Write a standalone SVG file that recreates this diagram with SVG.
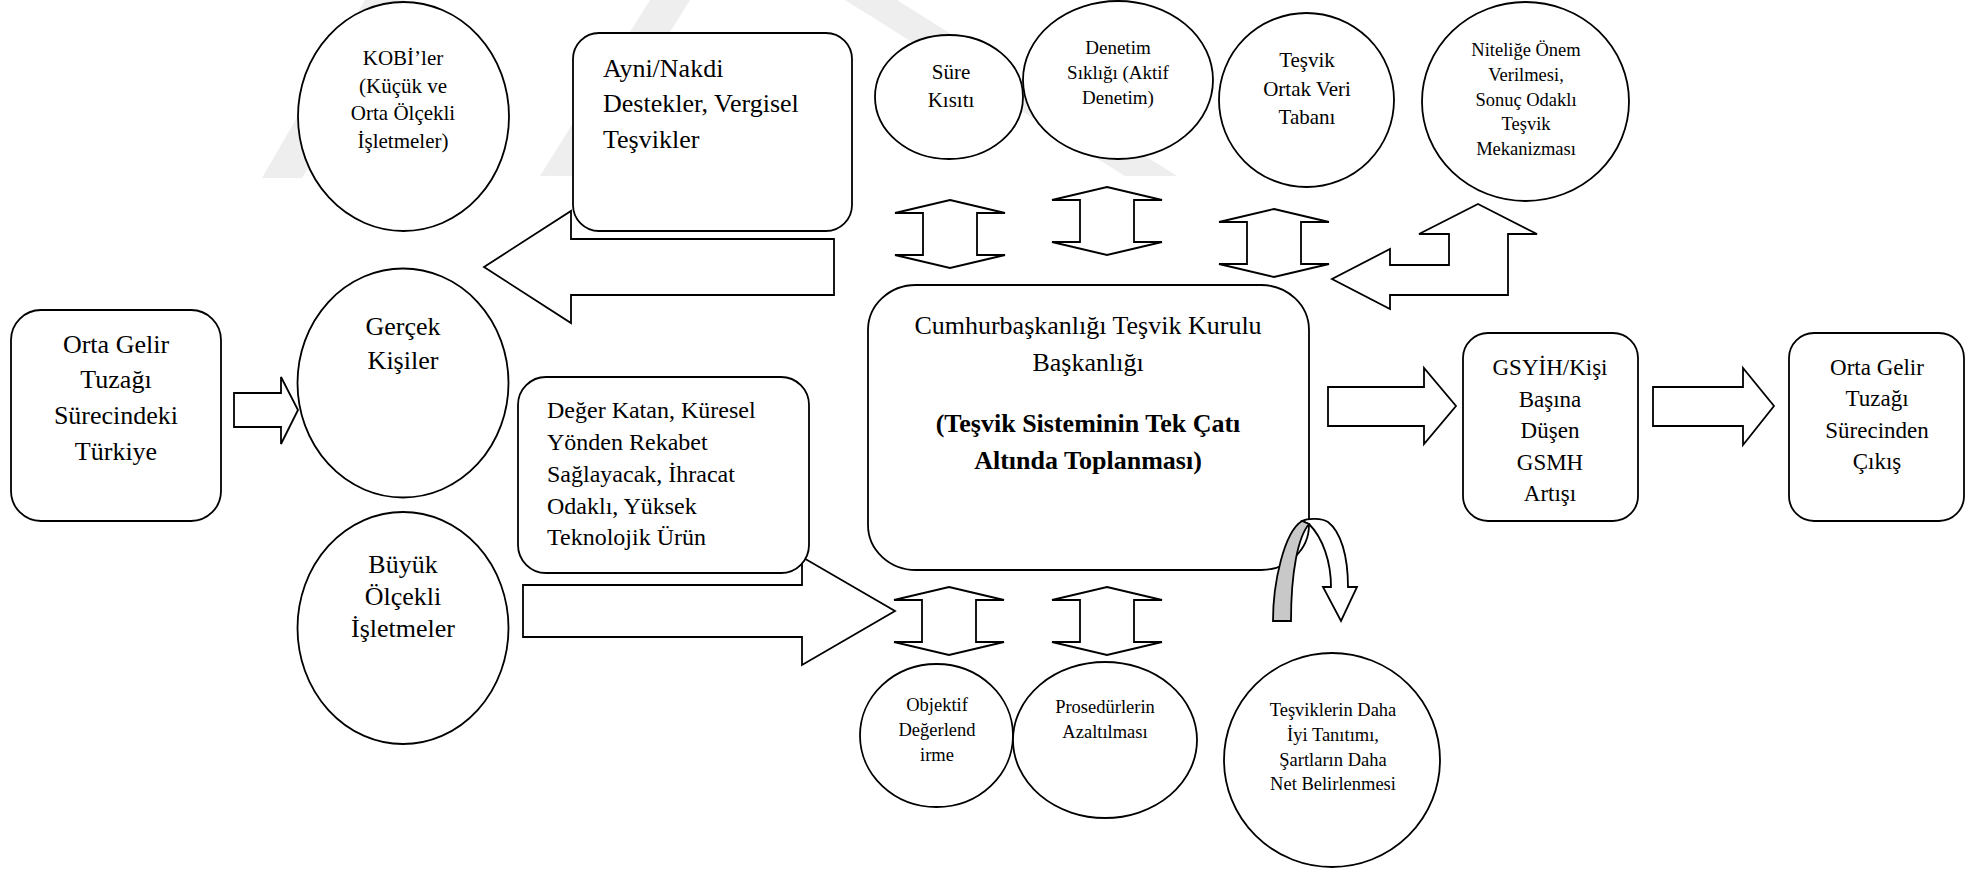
<svg xmlns="http://www.w3.org/2000/svg" xmlns:xlink="http://www.w3.org/1999/xlink" width="1975" height="871" viewBox="0 0 1975 871">
<style>
.bg{fill:#ffffff}
.wm{fill:#eeeeee;stroke:none}
.sh{fill:#ffffff;stroke:#000;stroke-width:1.8;stroke-linejoin:miter}
.ar{fill:#ffffff;stroke:#000;stroke-width:1.8;stroke-linejoin:miter}
.gr{fill:#c8c8c8;stroke:#000;stroke-width:1.8}
text{font-family:"Liberation Serif","Times New Roman",serif;fill:#000}
.c{text-anchor:middle}
.s26{font-size:26px}
.s24{font-size:24px}
.s23{font-size:23px}
.s21{font-size:21px}
.s19{font-size:19px}
.s18{font-size:18.5px}
.b{font-weight:bold}
</style>
<defs>
<polygon id="ud" class="ar" points="0,0 55,13 27,13 27,55 55,55 0,68 -55,55 -27,55 -27,13 -55,13"/>
</defs>
<rect class="bg" x="0" y="0" width="1975" height="871"/>
<g id="watermark">
<polygon class="wm" points="262,178 302,178 405,0 365,0"/>
<polygon class="wm" points="540,176 580,176 690,0 650,0"/>
<polygon class="wm" points="845,0 897,0 1177,176 1125,176"/>
</g>
<g id="connectors">
<polygon class="ar" points="234,393 281,393 281,377 298,410 281,444 281,427 234,427"/>
<polygon class="ar" points="484,267 571,211 571,239 834,239 834,295 571,295 571,323"/>
<polygon class="ar" points="523,585 802,585 802,557 895,611 802,665 802,637 523,637"/>
<use xlink:href="#ud" x="950" y="200"/>
<use xlink:href="#ud" x="1107" y="187"/>
<use xlink:href="#ud" x="1274" y="209"/>
<use xlink:href="#ud" x="949" y="587"/>
<use xlink:href="#ud" x="1107" y="587"/>
<polygon class="ar" points="1478,204 1537,234 1508,234 1508,295 1390,295 1390,309 1332,279 1390,249 1390,265 1449,265 1449,234 1419,234"/>
<polygon class="ar" points="1328,387 1424,387 1424,368 1456,406 1424,444 1424,426 1328,426"/>
<polygon class="ar" points="1653,387 1743,387 1743,368 1774,406 1743,445 1743,426 1653,426"/>
</g>
<g id="n-turkiye">
<rect class="sh" x="11" y="310" width="210" height="211" rx="30" ry="30"/>
<text class="c s26" x="116" y="353">Orta Gelir</text>
<text class="c s26" x="116" y="388">Tuzağı</text>
<text class="c s26" x="116" y="424">Sürecindeki</text>
<text class="c s26" x="116" y="460">Türkiye</text>
</g>
<g id="n-kobi">
<ellipse class="sh" cx="403.5" cy="116.5" rx="105.5" ry="114.5"/>
<text class="c s21" x="403" y="65">KOBİ’ler</text>
<text class="c s21" x="403" y="93">(Küçük ve</text>
<text class="c s21" x="403" y="120">Orta Ölçekli</text>
<text class="c s21" x="403" y="148">İşletmeler)</text>
</g>
<g id="n-gercek">
<ellipse class="sh" cx="403" cy="383" rx="105.5" ry="114.5"/>
<text class="c s26" x="403" y="335">Gerçek</text>
<text class="c s26" x="403" y="369">Kişiler</text>
</g>
<g id="n-buyuk">
<ellipse class="sh" cx="403" cy="628" rx="105.5" ry="116"/>
<text class="c s26" x="403" y="573">Büyük</text>
<text class="c s26" x="403" y="605">Ölçekli</text>
<text class="c s26" x="403" y="637">İşletmeler</text>
</g>
<g id="n-ayni">
<rect class="sh" x="573" y="33" width="279" height="198" rx="26" ry="26"/>
<text class="s26" x="603" y="77">Ayni/Nakdi</text>
<text class="s26" x="603" y="112">Destekler, Vergisel</text>
<text class="s26" x="603" y="148">Teşvikler</text>
</g>
<g id="n-deger">
<rect class="sh" x="518" y="377" width="291" height="196" rx="28" ry="28"/>
<text class="s24" x="547" y="418">Değer Katan, Küresel</text>
<text class="s24" x="547" y="450">Yönden Rekabet</text>
<text class="s24" x="547" y="482">Sağlayacak, İhracat</text>
<text class="s24" x="547" y="514">Odaklı, Yüksek</text>
<text class="s24" x="547" y="545">Teknolojik Ürün</text>
</g>
<g id="n-sure">
<ellipse class="sh" cx="949" cy="97" rx="74" ry="62"/>
<text class="c s21" x="951" y="79">Süre</text>
<text class="c s21" x="951" y="107">Kısıtı</text>
</g>
<g id="n-denetim">
<ellipse class="sh" cx="1118" cy="80" rx="95" ry="79"/>
<text class="c s19" x="1118" y="54">Denetim</text>
<text class="c s19" x="1118" y="79">Sıklığı (Aktif</text>
<text class="c s19" x="1118" y="104">Denetim)</text>
</g>
<g id="n-veritabani">
<ellipse class="sh" cx="1306.5" cy="100" rx="87.5" ry="87"/>
<text class="c s21" x="1307" y="67">Teşvik</text>
<text class="c s21" x="1307" y="96">Ortak Veri</text>
<text class="c s21" x="1307" y="124">Tabanı</text>
</g>
<g id="n-nitelik">
<ellipse class="sh" cx="1525.5" cy="101.5" rx="103.5" ry="99.5"/>
<text class="c s18" x="1526" y="56">Niteliğe Önem</text>
<text class="c s18" x="1526" y="81">Verilmesi,</text>
<text class="c s18" x="1526" y="106">Sonuç Odaklı</text>
<text class="c s18" x="1526" y="130">Teşvik</text>
<text class="c s18" x="1526" y="155">Mekanizması</text>
</g>
<g id="n-kurul">
<rect class="sh" x="868" y="285" width="441" height="285" rx="48" ry="45"/>
<text class="c s26" x="1088" y="334">Cumhurbaşkanlığı Teşvik Kurulu</text>
<text class="c s26" x="1088" y="371">Başkanlığı</text>
<text class="c s26 b" x="1088" y="432">(Teşvik Sisteminin Tek Çatı</text>
<text class="c s26 b" x="1088" y="469">Altında Toplanması)</text>
</g>
<g id="curved-arrow">
<path class="ar" d="M1302,521 C1308,518 1322,518 1328,522 C1341,532 1348,556 1348,587 L1357,587 L1341,621 L1323,587 L1331,587 C1331,562 1323,538 1309,524 Z"/>
<path class="gr" d="M1273,621 C1273,583 1284,532 1302,521 L1309,524 C1298,537 1291,572 1291,621 Z"/>
</g>
<g id="n-gsyih">
<rect class="sh" x="1463" y="333" width="175" height="188" rx="25" ry="25"/>
<text class="c s23" x="1550" y="375">GSYİH/Kişi</text>
<text class="c s23" x="1550" y="407">Başına</text>
<text class="c s23" x="1550" y="438">Düşen</text>
<text class="c s23" x="1550" y="470">GSMH</text>
<text class="c s23" x="1550" y="501">Artışı</text>
</g>
<g id="n-cikis">
<rect class="sh" x="1789" y="333" width="175" height="188" rx="25" ry="25"/>
<text class="c s23" x="1877" y="375">Orta Gelir</text>
<text class="c s23" x="1877" y="406">Tuzağı</text>
<text class="c s23" x="1877" y="438">Sürecinden</text>
<text class="c s23" x="1877" y="469">Çıkış</text>
</g>
<g id="n-objektif">
<ellipse class="sh" cx="936.5" cy="735.5" rx="76.5" ry="71.5"/>
<text class="c s18" x="937" y="711">Objektif</text>
<text class="c s18" x="937" y="736">Değerlend</text>
<text class="c s18" x="937" y="761">irme</text>
</g>
<g id="n-prosedur">
<ellipse class="sh" cx="1105" cy="740" rx="92" ry="78"/>
<text class="c s18" x="1105" y="713">Prosedürlerin</text>
<text class="c s18" x="1105" y="738">Azaltılması</text>
</g>
<g id="n-tanitim">
<ellipse class="sh" cx="1332" cy="760" rx="108" ry="107"/>
<text class="c s18" x="1333" y="716">Teşviklerin Daha</text>
<text class="c s18" x="1333" y="741">İyi Tanıtımı,</text>
<text class="c s18" x="1333" y="766">Şartların Daha</text>
<text class="c s18" x="1333" y="790">Net Belirlenmesi</text>
</g>
</svg>
